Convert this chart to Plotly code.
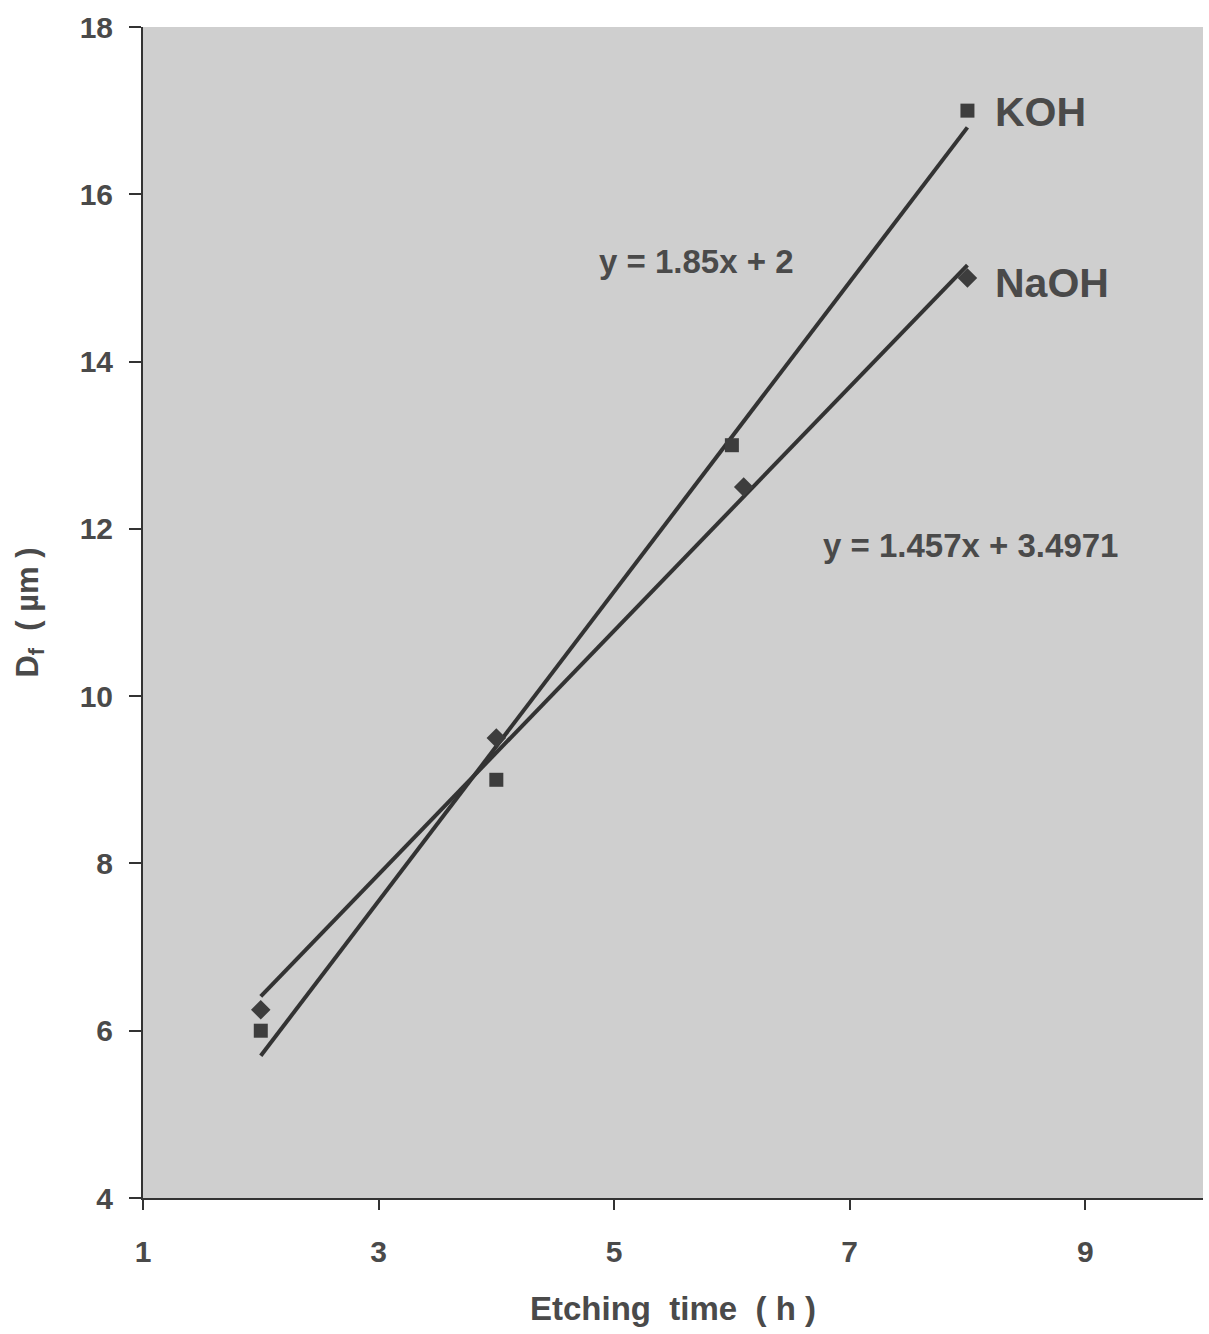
import plotly.graph_objects as go

koh_x = [2, 4, 6, 8]
koh_y = [6.0, 9.0, 13.0, 17.0]
naoh_x = [2, 4, 6.1, 8]
naoh_y = [6.25, 9.5, 12.5, 15.0]

koh_slope, koh_intercept = 1.85, 2.0
naoh_slope, naoh_intercept = 1.457, 3.4971
trend_x = [2, 8]

x_ticks = [1, 3, 5, 7, 9]
y_ticks = [4, 6, 8, 10, 12, 14, 16, 18]

font_fam = "Liberation Sans, Arial, sans-serif"
ink = "#333333"
label_col = "#4a4a4a"

fig = go.Figure()
fig.add_trace(go.Scatter(x=trend_x, y=[koh_slope * v + koh_intercept for v in trend_x],
                         mode="lines", line=dict(color=ink, width=4), showlegend=False))
fig.add_trace(go.Scatter(x=trend_x, y=[naoh_slope * v + naoh_intercept for v in trend_x],
                         mode="lines", line=dict(color=ink, width=4), showlegend=False))
fig.add_trace(go.Scatter(x=koh_x, y=koh_y, mode="markers",
                         marker=dict(symbol="square", size=14, color="#3d3d3d"), showlegend=False))
fig.add_trace(go.Scatter(x=naoh_x, y=naoh_y, mode="markers",
                         marker=dict(symbol="diamond", size=15, color="#3d3d3d"), showlegend=False))

ann_font = dict(family=font_fam, size=33, color=label_col)
fig.add_annotation(x=5.7, y=15.2, text="<b>y = 1.85x + 2</b>", showarrow=False, font=ann_font)
fig.add_annotation(x=8.03, y=11.8, text="<b>y = 1.457x + 3.4971</b>", showarrow=False, font=ann_font)
big = dict(family=font_fam, size=41, color=label_col)
fig.add_annotation(x=8.22, y=16.98, text="<b>KOH</b>", showarrow=False, xanchor="left", font=big)
fig.add_annotation(x=8.22, y=14.94, text="<b>NaOH</b>", showarrow=False, xanchor="left", font=big)

tick_font = dict(size=30, family=font_fam, color=label_col, weight="bold")
fig.update_layout(
    width=1209, height=1334,
    margin=dict(l=143, r=6, t=27, b=136),
    paper_bgcolor="white",
    plot_bgcolor="#cfcfcf",
    font=dict(family=font_fam, color=label_col),
    showlegend=False,
)
fig.update_xaxes(range=[1, 10], tickvals=x_ticks, ticks="outside", ticklen=10, tickwidth=2,
                 tickcolor=ink, showline=True, linecolor=ink, linewidth=2, showgrid=False,
                 zeroline=False, tickfont=tick_font, ticklabelstandoff=16, automargin=False,
                 title=dict(text="<b>Etching  time  ( h )</b>", font=dict(size=33, family=font_fam, color=label_col), standoff=30))
fig.update_yaxes(range=[4, 18], tickvals=y_ticks, ticks="outside", ticklen=12, tickwidth=2,
                 tickcolor=ink, showline=True, linecolor=ink, linewidth=2, showgrid=False,
                 zeroline=False, tickfont=tick_font, ticklabelstandoff=10, automargin=False,
                 title=dict(text="<b>D<sub>f</sub>  ( µm )</b>", font=dict(size=31, family=font_fam, color=label_col), standoff=32))

fig.write_html("out.html")
